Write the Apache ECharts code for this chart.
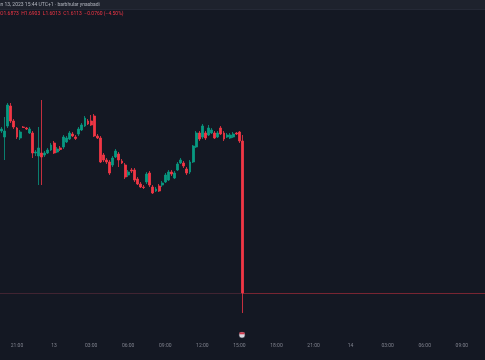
<!DOCTYPE html>
<html><head><meta charset="utf-8">
<script src="https://cdn.jsdelivr.net/npm/echarts@6/dist/echarts.min.js"></script>
<style>html,body{margin:0;padding:0;background:#131722;}#c{width:485px;height:360px;}</style>
</head><body><div id="c"></div>
<script>
// 15-minute candles; first slot 12 Jun 19:45
const startDay = 12, startHour = 19, startMin = 45, slotCount = 157;
const tickTimes  = ["12 21:00","13 00:00","13 03:00","13 06:00","13 09:00","13 12:00","13 15:00","13 18:00","13 21:00","14 00:00","14 03:00","14 06:00","14 09:00"];
const tickLabels = ["21:00","13","03:00","06:00","09:00","12:00","15:00","18:00","21:00","14","03:00","06:00","09:00"];

const opens = [1.6923,1.6893,1.6948,1.7048,1.6973,1.6938,1.6888,1.6943,1.6938,1.6913,
1.6913,1.6813,1.6798,1.6813,1.6803,1.6813,1.6828,1.6863,1.6818,1.6838,
1.6843,1.6868,1.6883,1.6908,1.6893,1.6908,1.6928,1.6948,1.6973,1.6973,
1.6998,1.6898,1.6888,1.6803,1.6778,1.6768,1.6753,1.6793,1.6808,1.6773,
1.6753,1.6703,1.6728,1.6728,1.6683,1.6658,1.6643,1.6668,1.6713,1.6643,
1.6623,1.6648,1.6653,1.6668,1.6678,1.6718,1.6688,1.6728,1.6763,1.6763,
1.6733,1.6718,1.6768,1.6843,1.6913,1.6893,1.6913,1.6903,1.6913,1.6913,
1.6893,1.6938,1.6913,1.6893,1.6888,1.6893,1.6913,1.6918,1.6873];
const closes = [1.6933,1.6923,1.7053,1.6973,1.6943,1.6893,1.6918,1.69405,1.6933,1.6933,
1.6813,1.6818,1.6838,1.6793,1.6813,1.6828,1.6853,1.6813,1.6833,1.68305,
1.6893,1.6888,1.6913,1.6898,1.68855,1.6933,1.6953,1.6988,1.6958,1.6953,
1.6898,1.6888,1.6768,1.6778,1.6768,1.6713,1.6788,1.6823,1.6778,1.6763,
1.6693,1.6718,1.6723,1.6678,1.6658,1.6643,1.66405,1.6708,1.6653,1.6613,
1.6633,1.6623,1.6663,1.6703,1.6718,1.6708,1.6713,1.6758,1.6778,1.6748,
1.6713,1.6768,1.6848,1.6913,1.6883,1.6948,1.6888,1.6938,1.6928,1.6888,
1.6913,1.6908,1.6883,1.6903,1.6903,1.6908,1.6908,1.6873,1.6113];
const lows = [1.6913,1.6778,1.6938,1.6963,1.6933,1.6883,1.6878,1.6938,1.6928,1.6908,
1.6788,1.6798,1.6653,1.6653,1.6793,1.6808,1.6823,1.6808,1.6813,1.6823,
1.6833,1.6863,1.6878,1.6893,1.6878,1.6898,1.6923,1.6943,1.6953,1.6948,
1.6893,1.6883,1.6763,1.6768,1.6758,1.6703,1.6743,1.6788,1.6743,1.6758,
1.6683,1.6693,1.6713,1.6668,1.6653,1.6638,1.6633,1.6658,1.6643,1.6608,
1.6618,1.6618,1.6643,1.6663,1.6673,1.6698,1.6683,1.6723,1.6758,1.6738,
1.6703,1.6708,1.6763,1.6838,1.6873,1.6883,1.6878,1.6898,1.6908,1.6883,
1.6888,1.6903,1.6873,1.6888,1.6883,1.6888,1.6903,1.6863,1.6013];
const highs = [1.6943,1.6993,1.7063,1.7063,1.6983,1.6943,1.6928,1.6948,1.6943,1.6943,
1.6923,1.6828,1.6943,1.7078,1.6823,1.6838,1.6863,1.6873,1.6843,1.6848,
1.6903,1.6898,1.6923,1.6918,1.6903,1.6943,1.6963,1.6998,1.6983,1.7003,
1.7008,1.6908,1.6898,1.6813,1.6788,1.6778,1.6798,1.6833,1.6818,1.6783,
1.6763,1.6728,1.6738,1.6738,1.6693,1.6668,1.6653,1.6718,1.6723,1.6653,
1.6643,1.6658,1.6673,1.6713,1.6728,1.6728,1.6723,1.6768,1.6788,1.6773,
1.6743,1.6778,1.6853,1.6923,1.6923,1.6958,1.6923,1.6953,1.6938,1.6923,
1.6923,1.6948,1.6923,1.6913,1.6913,1.6918,1.6918,1.6923,1.6903];
const lastPrice = 1.6113;
const headerLine1 = "Jun 13, 2023 15:44 UTC+1 · barbhular ynasbadi";
const headerLine2 = "O1.6873  H1.6903  L1.6013  C1.6113  −0.0760 (−4.50%)";

const pad = n => (n < 10 ? "0" : "") + n;
const categories = [];
for (let i = 0; i < slotCount; i++) {
  const m = startHour * 60 + startMin + i * 15;
  const d = startDay + Math.floor(m / 1440);
  const mm = m % 1440;
  categories.push(d + " " + pad(Math.floor(mm / 60)) + ":" + pad(mm % 60));
}
const candles = categories.map((c, i) => i < opens.length ? [opens[i], closes[i], lows[i], highs[i]] : '-');
const lastIdx = opens.length - 1;

const chart = echarts.init(document.getElementById('c'));
chart.setOption({
  animation: false,
  backgroundColor: '#141823',
  grid: { left: 0, right: 0, top: 20, bottom: 24 },
  xAxis: {
    type: 'category', data: categories, boundaryGap: true,
    axisLine: { show: false }, axisTick: { show: false },
    splitLine: { show: false },
    axisLabel: {
      interval: (idx, val) => tickTimes.indexOf(val) >= 0,
      formatter: val => { const k = tickTimes.indexOf(val); return k >= 0 ? tickLabels[k] : ''; },
      color: '#80838e', fontSize: 5, margin: 7, fontFamily: 'Roboto'
    }
  },
  yAxis: {
    type: 'value', min: 1.5898, max: 1.7478, show: false,
    splitLine: { show: false }
  },
  graphic: [
    { type: 'rect', left: 0, top: 0, shape: { width: 485, height: 9 }, style: { fill: '#1e222d' }, z: 100 },
    { type: 'rect', left: 0, top: 9, shape: { width: 485, height: 1 }, style: { fill: '#252936' }, z: 100 },
    { type: 'text', x: -5, y: 2, style: { text: headerLine1, fill: '#b2b5be', font: '5px Roboto' }, z: 101 },
    { type: 'text', x: 0, y: 11, style: { text: headerLine2, fill: '#f23645', font: '5px Roboto' }, z: 101 },
    { type: 'circle', shape: { cx: 242, cy: 335, r: 3 }, style: { fill: '#d8d8e0', stroke: '#3a3e4a', lineWidth: 0.5 }, z: 101 },
    { type: 'rect', shape: { x: 239.5, y: 332.3, width: 5, height: 2 }, style: { fill: '#d2374a' }, z: 102 }
  ],
  series: [{
    type: 'candlestick',
    data: candles,
    barWidth: 2.4,
    itemStyle: { color: '#089981', color0: '#f23645', borderColor: '#089981', borderColor0: '#f23645', borderWidth: 0.8 },
    markLine: {
      symbol: ['none', 'none'], silent: true, label: { show: false },
      data: [
        [ { coord: [categories[0], lastPrice], x: 0, lineStyle: { color: 'rgba(150,60,80,0.35)', type: 'solid', width: 1 } },
          { coord: [categories[lastIdx], lastPrice] } ],
        [ { coord: [categories[lastIdx], lastPrice], lineStyle: { color: 'rgba(242,54,69,0.45)', type: 'solid', width: 1 } },
          { coord: [categories[slotCount - 1], lastPrice], x: 485 } ]
      ]
    }
  }]
});
</script></body></html>
